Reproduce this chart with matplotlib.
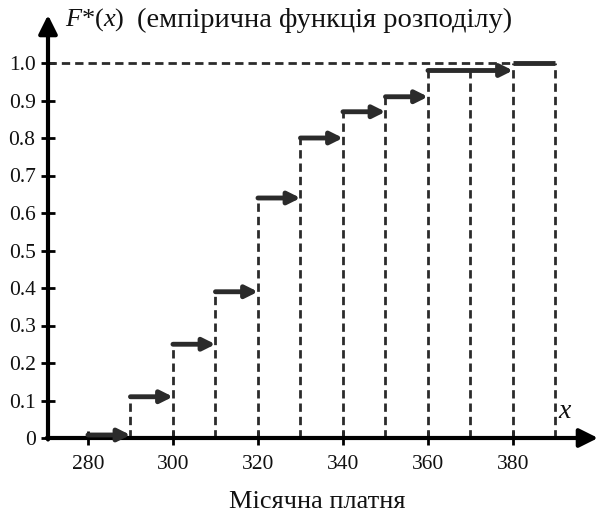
import numpy as np
import matplotlib
matplotlib.use('Agg')
import matplotlib.pyplot as plt

plt.rcParams.update({'font.family': ['Liberation Serif', 'DejaVu Serif'],
                     'mathtext.fontset': 'custom',
                     'mathtext.it': 'Liberation Serif:italic',
                     'mathtext.rm': 'Liberation Serif'})

# step edges and empirical distribution values on each interval
edges = [280, 290, 300, 310, 320, 330, 340, 350, 360, 380, 390]
F_vals = [0.0, 0.11, 0.25, 0.39, 0.64, 0.80, 0.87, 0.91, 0.98, 1.0]
vline_x = [290, 300, 310, 320, 330, 340, 350, 360, 370, 380, 390]
x_ticks = [280, 300, 320, 340, 360, 380]
y_ticks = [0, 0.1, 0.2, 0.3, 0.4, 0.5, 0.6, 0.7, 0.8, 0.9, 1.0]
y_labels = ['0', '0.1', '0.2', '0.3', '0.4', '0.5', '0.6', '0.7', '0.8', '0.9', '1.0']

W, H = 602, 514
fig = plt.figure(figsize=(W / 100, H / 100), dpi=100)
x0, x1 = 270.6, 400.0
y0, y1 = 0.0, 1.128
ax = fig.add_axes([48 / W, (H - 438) / H, (598 - 48) / W, (438 - 15) / H])
ax.set_xlim(x0, x1)
ax.set_ylim(y0, y1)
for s in ax.spines.values():
    s.set_visible(False)

dark = '#2b2b2b'
dash = (0, (3, 1.8))

# axes with arrows
ax.annotate('', xy=(x1, 0), xytext=(x0 - 0.3, 0), annotation_clip=False,
            arrowprops=dict(arrowstyle='-|>', lw=3, color='black',
                            mutation_scale=28, shrinkA=0, shrinkB=0))
ax.annotate('', xy=(x0, y1), xytext=(x0, -0.004), annotation_clip=False,
            arrowprops=dict(arrowstyle='-|>', lw=3, color='black',
                            mutation_scale=28, shrinkA=0, shrinkB=0))

# dashed lines
ax.plot([x0, 380], [1.0, 1.0], ls=dash, lw=2, color=dark)
for vx in vline_x:
    idx = min(np.searchsorted(edges, vx, side='right') - 1, len(F_vals) - 1)
    ax.plot([vx, vx], [0, F_vals[idx]], ls=dash, lw=2, color=dark)

# steps
for i, f in enumerate(F_vals):
    a, b = edges[i], edges[i + 1]
    yy = f + 0.008 if f == 0 else f
    if i < len(F_vals) - 1:
        ax.annotate('', xy=(b, yy), xytext=(a, yy),
                    arrowprops=dict(arrowstyle='-|>', lw=3.5, color=dark,
                                    mutation_scale=18, shrinkA=0, shrinkB=0))
    else:
        ax.plot([a, b], [f, f], lw=3.5, color=dark, solid_capstyle='butt')

ax.set_xticks(x_ticks)
ax.set_yticks(y_ticks)
ax.set_yticklabels(y_labels)
ax.tick_params(axis='both', direction='inout', length=10, width=2, color='black',
               labelsize=15.5, labelcolor='#111111')
ax.tick_params(axis='x', pad=7)
ax.tick_params(axis='y', pad=4)

fig.text(65 / W, 1 - 20 / H, r'$F$*$(x)$', fontsize=19, va='center',
         ha='left', color='#111111')
fig.text(137 / W, 1 - 20 / H, '(емпірична функція розподілу)',
         fontsize=20.5, va='center', ha='left', color='#111111')
fig.text(565 / W, 1 - 411 / H, r'$x$', fontsize=20, ha='center', va='center',
         color='#111111')
fig.text(317 / W, 1 - 508 / H, 'Місячна платня', fontsize=19, ha='center',
         va='baseline', color='#111111')

fig.savefig('out.png', dpi=100)
